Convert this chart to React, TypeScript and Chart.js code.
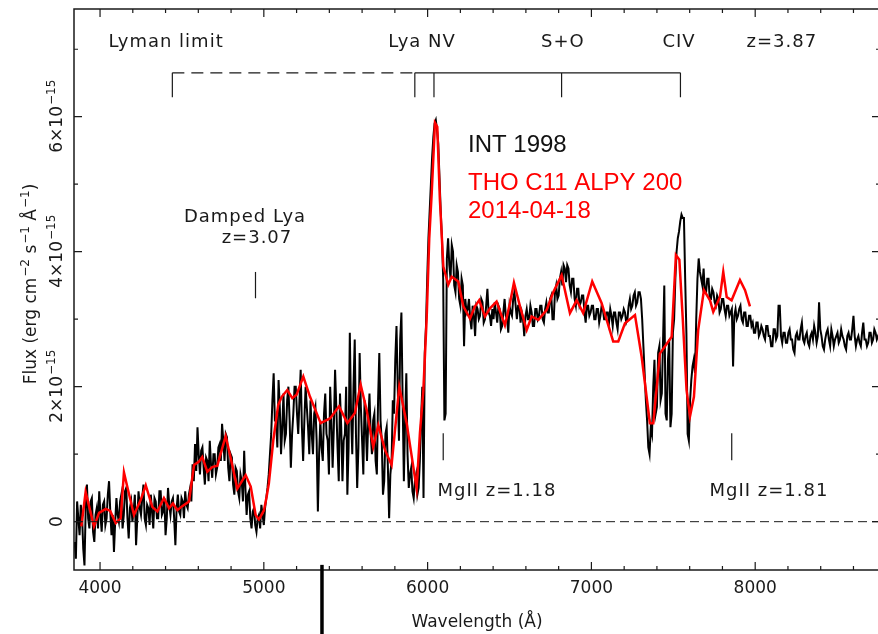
import React, { useEffect, useRef } from "react";
import { Chart, registerables } from "chart.js";
Chart.register(...registerables);

// ---- data (flux in units of 1e-15 erg cm^-2 s^-1 A^-1) ----
const blackStart = 3845; // Angstrom, first bin of INT 1998 spectrum
const blackStep = 7.5; // Angstrom per bin
const blackFlux = [
  -0.3, -0.55, 0.3, 0.05, -0.2, 0.25, 0.1, -0.4, -0.65, 0.2, 0.55, 0.05, -0.1, 0.3, 0.35, -0.15, -0.3, 0.1, 0.2, -0.1,
  0.45, 0.1, -0.15, 0.25, 0.3, -0.05, 0.05, 0.4, 0.6, 0.15, -0.2, 0.1, -0.45, 0.0, 0.35, 0.1, 0.0, 0.3, 0.4, -0.1,
  0.1, 0.45, 0.5, 0.05, -0.25, 0.2, 0.3, 0.0, 0.15, 0.4, -0.35, 0.05, 0.45, 0.2, 0.1, 0.35, 0.55, 0.05, -0.05, 0.25,
  0.2, -0.05, 0.4, 0.15, -0.1, 0.35, 0.3, 0.05, 0.05, 0.45, 0.45, 0.1, 0.15, 0.35, -0.2, 0.05, 0.5, 0.25, 0.1, 0.3,
  0.35, 0.05, -0.35, 0.2, 0.4, 0.15, 0.1, 0.35, 0.3, 0.05, 0.45, 0.25, 0.2, 0.4, 0.5, 0.3, 0.85, 0.6, 1.15, 0.75,
  1.4, 1.0, 0.7, 1.05, 1.1, 0.8, 0.55, 0.95, 0.9, 0.6, 1.2, 0.85, 0.65, 1.0, 1.0, 0.7, 0.8, 1.1, 1.15, 0.9,
  1.45, 1.2, 0.9, 1.3, 1.25, 0.8, 0.6, 1.0, 0.95, 0.55, 0.4, 0.8, 0.75, 0.45, 0.35, 0.7, 0.6, 0.3, 1.05, 0.5,
  0.1, 0.4, 0.45, 0.05, -0.1, 0.15, 0.2, -0.05, -0.15, 0.05, 0.1, -0.1, 0.25, 0.1, -0.05, 0.2, 0.35, 0.5, 0.7, 1.0,
  1.3, 1.8, 2.2, 1.5, 1.5, 1.1, 2.1, 1.7, 1.0, 1.4, 1.9, 1.2, 1.3, 1.8, 2.0, 1.5, 0.8, 1.3, 1.6, 2.0,
  2.0, 1.6, 1.3, 1.8, 2.25, 1.4, 0.9, 1.5, 2.0, 1.7, 1.4, 1.0, 1.8, 1.3, 1.0, 1.6, 1.7, 1.2, 0.15, 1.0,
  1.5, 1.1, 0.9, 1.6, 1.9, 1.3, 1.2, 0.7, 2.0, 1.5, 0.8, 1.4, 2.25, 1.7, 1.1, 0.6, 1.9, 1.4, 0.6, 1.2,
  1.3, 2.0, 0.4, 1.1, 2.8, 1.6, 1.0, 2.0, 2.7, 1.3, 0.5, 1.1, 2.5, 1.7, 1.2, 0.7, 1.8, 1.4, 0.9, 1.5,
  1.9, 1.3, 1.0, 1.5, 1.6, 0.9, 0.7, 1.8, 2.5, 1.5, 1.2, 0.4, 0.6, 1.3, 1.4, 0.8, 0.05, 0.7, 0.9, 1.8,
  1.6, 2.4, 2.9, 2.0, 1.2, 2.7, 3.1, 1.8, 0.6, 1.5, 2.2, 1.0, 0.5, 0.7, 0.8, 0.45, 0.35, 0.6, 0.7, 0.4,
  0.5, 0.9, 1.5, 2.0, 0.35, 2.5, 2.9, 3.6, 4.2, 4.6, 5.0, 5.4, 5.7, 5.9, 5.95, 5.8, 5.6, 5.1, 4.6, 4.2,
  3.6, 1.5, 1.6, 3.9, 4.2, 3.8, 3.6, 4.1, 4.0, 3.5, 3.4, 3.8, 3.7, 3.3, 3.2, 3.6, 3.5, 2.6, 3.3, 3.1,
  3.15, 3.3, 3.0, 2.85, 3.2, 3.05, 2.75, 3.2, 3.15, 3.0, 3.05, 3.3, 3.25, 2.95, 3.0, 3.2, 3.45, 3.1, 3.05, 2.9,
  3.15, 3.0, 3.25, 3.1, 2.95, 3.2, 3.15, 2.85, 2.9, 3.1, 3.3, 3.05, 3.0, 2.8, 3.2, 3.1, 3.05, 3.3, 3.4, 3.2,
  3.0, 3.2, 3.2, 2.95, 3.1, 3.0, 2.75, 3.05, 3.15, 3.0, 3.0, 3.2, 3.1, 2.9, 2.9, 3.15, 3.15, 3.0, 3.05, 3.2,
  3.2, 3.0, 2.95, 3.15, 3.25, 3.1, 3.1, 3.3, 3.35, 3.0, 3.0, 3.4, 3.5, 3.3, 3.35, 3.6, 3.7, 3.5, 3.8, 3.75,
  3.55, 3.8, 3.75, 3.5, 3.4, 3.6, 3.6, 3.3, 3.2, 3.45, 3.45, 3.2, 3.25, 3.35, 3.35, 3.1, 2.95, 3.2, 3.2, 3.05,
  3.1, 3.2, 3.2, 3.0, 3.0, 3.15, 3.15, 2.95, 3.05, 3.2, 3.15, 3.0, 3.0, 3.1, 3.1, 2.95, 3.15, 3.05, 2.9, 3.1,
  3.1, 2.95, 2.85, 3.1, 3.1, 3.0, 3.05, 3.15, 3.1, 2.95, 3.0, 3.2, 3.3, 3.15, 3.2, 3.35, 3.4, 3.2, 3.25, 3.4,
  3.4, 3.3, 3.0, 2.6, 2.2, 1.8, 1.5, 1.1, 1.0, 1.4, 1.3, 2.0, 2.4, 1.6, 1.7, 2.5, 2.6, 1.8, 1.9, 2.7,
  3.5, 1.6, 1.5, 2.4, 2.7, 1.4, 1.6, 2.8, 3.0, 3.6, 4.0, 4.2, 4.3, 4.45, 4.55, 4.5, 4.5, 3.6, 2.8, 1.3,
  1.2, 1.8, 2.1, 2.3, 2.4, 2.2, 3.0, 3.6, 3.9, 3.7, 3.6, 3.5, 3.75, 3.4, 3.4, 3.6, 3.6, 3.3, 3.3, 3.45,
  3.4, 3.25, 3.2, 3.35, 3.3, 3.1, 3.15, 3.3, 3.3, 3.15, 3.05, 3.2, 3.2, 3.05, 3.1, 3.15, 2.3, 3.05, 3.15, 3.0,
  3.05, 3.15, 3.2, 3.0, 2.95, 3.1, 3.1, 2.9, 2.9, 3.05, 3.05, 2.9, 2.95, 2.8, 2.8, 2.95, 2.95, 2.75, 2.8, 2.9,
  2.85, 2.75, 2.7, 2.9, 2.9, 2.75, 2.75, 2.6, 2.6, 2.85, 2.85, 2.7, 2.75, 3.2, 3.2, 2.75, 2.65, 2.8, 2.8, 2.65,
  2.65, 2.8, 2.85, 2.7, 2.7, 2.55, 2.5, 2.75, 2.8, 2.7, 2.7, 2.85, 2.95, 2.7, 2.65, 2.75, 2.8, 2.65, 2.6, 2.75,
  2.8, 2.7, 2.9, 2.8, 2.65, 2.75, 3.25, 2.85, 2.75, 2.6, 2.55, 2.7, 2.8, 2.85, 2.7, 2.6, 2.85, 2.75, 2.6, 2.7,
  2.75, 2.8, 2.65, 2.7, 2.85, 2.75, 2.7, 2.6, 2.55, 2.75, 2.8, 2.7, 2.7, 2.85, 3.05, 2.75, 2.6, 2.7, 2.75, 2.65,
  2.6, 2.8, 2.95, 2.7, 2.7, 2.6, 2.65, 2.8, 2.8, 2.65, 2.7, 2.85, 2.8, 2.7, 2.75, 2.7,
];

const redWavelength = [
  3886, 3912, 3943, 3963, 3994, 4035, 4062, 4096, 4126, 4146, 4166, 4207, 4248, 4279,
  4319, 4350, 4390, 4421, 4445, 4472, 4502, 4543, 4574, 4604, 4624, 4655, 4685, 4716,
  4767, 4798, 4838, 4889, 4920, 4950, 4970, 5001, 5017, 5031, 5058, 5088, 5109, 5143,
  5174, 5200, 5241, 5282, 5347, 5404, 5459, 5510, 5556, 5591, 5628, 5668, 5699, 5740,
  5780, 5827, 5872, 5933, 5953, 5974, 5994, 6010, 6025, 6045, 6059, 6075, 6096, 6126,
  6147, 6187, 6218, 6259, 6289, 6315, 6350, 6381, 6421, 6472, 6503, 6527, 6564, 6605,
  6635, 6676, 6727, 6767, 6818, 6869, 6910, 6950, 7005, 7062, 7133, 7164, 7205, 7266,
  7307, 7357, 7378, 7418, 7490, 7516, 7537, 7557, 7581, 7602, 7626, 7652, 7687, 7724,
  7744, 7785, 7805, 7826, 7856, 7907, 7938, 7968,
];
const redFlux = [
  -0.07, 0.44, 0.13, -0.07, 0.13, 0.19, 0.16, -0.02, 0.05, 0.73, 0.52, 0.1, 0.32, 0.54,
  0.22, 0.15, 0.35, 0.2, 0.27, 0.17, 0.23, 0.3, 0.84, 0.89, 0.96, 0.74, 0.81, 0.83,
  1.27, 0.94, 0.49, 0.69, 0.52, 0.1, 0.03, 0.17, 0.37, 0.57, 1.21, 1.73, 1.85, 1.95,
  1.83, 1.88, 2.15, 1.85, 1.46, 1.53, 1.71, 1.46, 1.61, 2.03, 1.65, 1.11, 1.43, 1.06,
  0.84, 2.0, 1.46, 0.49, 1.31, 1.95, 3.0, 4.2, 4.87, 5.91, 5.85, 4.77, 3.78, 3.51,
  3.63, 3.56, 3.19, 3.01, 3.19, 3.28, 3.04, 3.16, 3.26, 2.91, 3.24, 3.54, 3.19, 2.84,
  3.04, 2.99, 3.14, 3.4, 3.65, 3.09, 3.28, 3.09, 3.56, 3.24, 2.67, 2.67, 2.94, 3.06,
  2.44, 1.46, 1.46, 2.49, 2.74, 3.95, 3.88, 3.04, 1.95, 1.56, 1.85, 2.84, 3.43, 3.28,
  3.11, 3.33, 3.7, 3.33, 3.28, 3.58, 3.43, 3.19,
];

const xMajorTicks = [4000, 5000, 6000, 7000, 8000];
const xTickLabels = ["4000", "5000", "6000", "7000", "8000"];
const yMajorTicks = [0, 2, 4, 6];
const yTickMantissa = ["0", "2×10", "4×10", "6×10"];
const yTickExponent = ["", "−15", "−15", "−15"];

const zQuasar = 3.87;
const quasarRest = [912, 1216, 1240, 1400, 1549];
const zDamped = 3.07;
const lyaRest = 1216;
const mgiiRest = 2796;
const mgiiRedshifts = [1.18, 1.81];

const seriesNames = ["INT 1998", "THO C11 ALPY 200", "2014-04-18"];

const X_MIN = 3841;
const X_MAX = 8762;
const Y_MIN = -0.716;
const Y_MAX = 7.596;

const ANN_FONT = '18px "DejaVu Sans"';
const TICK_FONT = '17px "DejaVu Sans"';
const INK = "#1a1a1a";

const overlayPlugin = {
  id: "overlay",
  afterDatasetsDraw(chart: any) {
    const ctx: CanvasRenderingContext2D = chart.ctx;
    const xs = chart.scales.x;
    const ys = chart.scales.y;
    const { left, right, top, bottom } = chart.chartArea;
    const X = (v: number) => xs.getPixelForValue(v);
    const Y = (v: number) => ys.getPixelForValue(v);
    ctx.save();
    ctx.strokeStyle = INK;
    ctx.fillStyle = INK;

    // zero line (dashed)
    ctx.lineWidth = 1;
    ctx.setLineDash([9, 5]);
    ctx.beginPath();
    ctx.moveTo(left, Y(0));
    ctx.lineTo(right, Y(0));
    ctx.stroke();
    ctx.setLineDash([]);

    // frame
    ctx.lineWidth = 1.5;
    ctx.beginPath();
    ctx.moveTo(left, top);
    ctx.lineTo(left, bottom);
    ctx.lineTo(right, bottom);
    ctx.lineTo(right, top);
    ctx.closePath();
    ctx.stroke();

    // x ticks (inward, bottom & top)
    ctx.lineWidth = 1.2;
    ctx.beginPath();
    for (let w = 3800; w <= X_MAX; w += 200) {
      if (w < X_MIN) continue;
      const px = X(w);
      const major = w % 1000 === 0;
      const len = major ? 8 : 4;
      ctx.moveTo(px, bottom);
      ctx.lineTo(px, bottom - len);
      ctx.moveTo(px, top);
      ctx.lineTo(px, top + len);
    }
    // y ticks (inward, left & right)
    for (let f = 0; f <= Y_MAX; f += 1) {
      const py = Y(f);
      const major = f % 2 === 0;
      const len = major ? 8 : 4;
      ctx.moveTo(left, py);
      ctx.lineTo(left + len, py);
      ctx.moveTo(right, py);
      ctx.lineTo(right - len, py);
    }
    ctx.stroke();

    // x tick labels
    ctx.font = TICK_FONT;
    ctx.textAlign = "center";
    ctx.textBaseline = "alphabetic";
    xMajorTicks.forEach((w, i) => ctx.fillText(xTickLabels[i], X(w), 593));

    // y tick labels (rotated)
    yMajorTicks.forEach((f, i) => {
      const main = yTickMantissa[i];
      const sup = yTickExponent[i];
      ctx.save();
      ctx.translate(62, Y(f));
      ctx.rotate(-Math.PI / 2);
      ctx.textAlign = "left";
      ctx.font = TICK_FONT;
      const mw = ctx.measureText(main).width;
      ctx.font = '12px "DejaVu Sans"';
      const sw = sup ? ctx.measureText(sup).width : 0;
      const start = -(mw + sw) / 2;
      ctx.font = TICK_FONT;
      ctx.fillText(main, start, 0);
      if (sup) {
        ctx.font = '12px "DejaVu Sans"';
        ctx.fillText(sup, start + mw + 1, -7);
      }
      ctx.restore();
    });

    // y axis title
    const segs: [string, boolean][] = [
      ["Flux (erg cm", false],
      ["−2", true],
      [" s", false],
      ["−1", true],
      [" Å", false],
      ["−1", true],
      [")", false],
    ];
    ctx.save();
    ctx.translate(36, 284);
    ctx.rotate(-Math.PI / 2);
    ctx.textAlign = "left";
    let total = 0;
    const widths = segs.map(([t, s]) => {
      ctx.font = s ? '12px "DejaVu Sans"' : '17px "DejaVu Sans"';
      const w = ctx.measureText(t).width + (s ? 1 : 0);
      total += w;
      return w;
    });
    let cx = -total / 2;
    segs.forEach(([t, s], i) => {
      ctx.font = s ? '12px "DejaVu Sans"' : '17px "DejaVu Sans"';
      ctx.fillText(t, cx + (s ? 1 : 0), s ? -7 : 0);
      cx += widths[i];
    });
    ctx.restore();

    // x axis title
    ctx.font = '17px "DejaVu Sans"';
    ctx.textAlign = "center";
    ctx.fillText("Wavelength (Å)", (left + right) / 2, 627);

    // annotations
    (ctx as any).letterSpacing = "1px";
    ctx.font = ANN_FONT;
    ctx.textBaseline = "middle";
    ctx.textAlign = "center";
    const obs = quasarRest.map((r) => r * (1 + zQuasar));
    const yBar = 6.65;
    const yBarLow = 6.29;
    ctx.lineWidth = 1.2;
    // dashed part of bracket (Lyman limit -> Lya)
    ctx.setLineDash([12, 7]);
    ctx.beginPath();
    ctx.moveTo(X(obs[0]), Y(yBar));
    ctx.lineTo(X(obs[1]), Y(yBar));
    ctx.stroke();
    ctx.setLineDash([]);
    ctx.beginPath();
    ctx.moveTo(X(obs[1]), Y(yBar));
    ctx.lineTo(X(obs[4]), Y(yBar));
    obs.forEach((w) => {
      ctx.moveTo(X(w), Y(yBar));
      ctx.lineTo(X(w), Y(yBarLow));
    });
    ctx.stroke();
    const yTop = 7.1;
    ctx.fillText("Lyman limit", X(4403), Y(yTop));
    ctx.fillText("Lya NV", X(5966), Y(yTop));
    ctx.fillText("S+O", X(6826), Y(yTop));
    ctx.fillText("CIV", X(7535), Y(yTop));
    ctx.fillText("z=" + zQuasar.toFixed(2), X(8163), Y(yTop));

    // damped Lya
    const wd = lyaRest * (1 + zDamped);
    ctx.beginPath();
    ctx.moveTo(X(wd), Y(3.7));
    ctx.lineTo(X(wd), Y(3.31));
    ctx.stroke();
    ctx.fillText("Damped Lya", X(4885), Y(4.51));
    ctx.fillText("z=" + zDamped.toFixed(2), X(4958), Y(4.2));

    // MgII absorbers
    const mgLabelX = [6423, 8084];
    mgiiRedshifts.forEach((z, i) => {
      const w = mgiiRest * (1 + z);
      ctx.beginPath();
      ctx.moveTo(X(w), Y(1.31));
      ctx.lineTo(X(w), Y(0.91));
      ctx.stroke();
      ctx.fillText("MgII z=" + z.toFixed(2), X(mgLabelX[i]), Y(0.45));
    });
    (ctx as any).letterSpacing = "0px";

    // legend texts
    ctx.textAlign = "left";
    ctx.textBaseline = "alphabetic";
    ctx.font = '24px "Liberation Sans"';
    ctx.fillStyle = "#111";
    ctx.fillText(seriesNames[0], 468, 152);
    ctx.fillStyle = "#ff0000";
    ctx.fillText(seriesNames[1], 468, 190);
    ctx.fillText(seriesNames[2], 468, 218);

    // stray thick mark below the axis
    ctx.strokeStyle = "#000";
    ctx.lineWidth = 3.5;
    ctx.beginPath();
    ctx.moveTo(X(5355), Y(-0.64));
    ctx.lineTo(X(5355), chart.height);
    ctx.stroke();

    ctx.restore();
  },
};

export default function App() {
  const ref = useRef<HTMLCanvasElement | null>(null);
  useEffect(() => {
    if (!ref.current) return;
    const blackData = blackFlux.map((f, i) => ({ x: blackStart + i * blackStep, y: f }));
    const redData = redWavelength.map((w, i) => ({ x: w, y: redFlux[i] }));
    const chart = new Chart(ref.current, {
      type: "line",
      data: {
        datasets: [
          {
            label: seriesNames[1],
            data: redData,
            borderColor: "#ff0000",
            borderWidth: 2.5,
            pointRadius: 0,
            tension: 0,
            fill: false,
          },
          {
            label: seriesNames[0],
            data: blackData,
            borderColor: "#000000",
            borderWidth: 2,
            pointRadius: 0,
            tension: 0,
            fill: false,
          },
        ],
      },
      options: {
        responsive: false,
        animation: false,
        devicePixelRatio: 1,
        layout: { padding: { left: 74, top: 9, right: 4, bottom: 64 } },
        plugins: { legend: { display: false }, tooltip: { enabled: false } },
        scales: {
          x: { type: "linear", min: X_MIN, max: X_MAX, display: false },
          y: { type: "linear", min: Y_MIN, max: Y_MAX, display: false },
        },
      },
      plugins: [overlayPlugin],
    });
    return () => chart.destroy();
  }, []);
  return (
    <div
      style={{
        position: "fixed",
        left: 0,
        top: 0,
        width: 878,
        height: 634,
        overflow: "hidden",
        background: "#fff",
      }}
    >
      <canvas ref={ref} width={884} height={634} style={{ display: "block" }} />
    </div>
  );
}
